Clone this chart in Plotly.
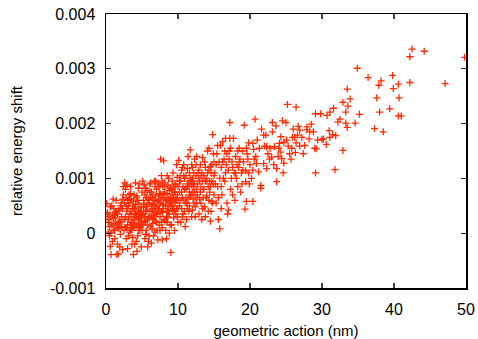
import plotly.graph_objects as go

# ---- data (x: geometric action in nm, y: relative energy shift in units of 1e-3) ----
x_a = [0.1,0.2,0.3,0.3,0.5,0.6,0.7,0.8,0.9,1.0,1.1,1.2,1.3,1.4,1.5,1.6,1.7,1.8,1.9,2.0,2.1,2.2,2.3,2.4,
       0.4,0.6,0.9,1.1,1.3,1.6,1.8,2.0,2.2,2.4,0.2,0.7,1.0,1.5,1.9,2.3,0.5,1.2,1.7,2.1,2.5]
y_a = [0.54,0.38,0.20,0.02,-0.05,-0.24,-0.39,0.15,0.33,0.05,0.45,-0.10,0.28,0.60,-0.39,0.10,-0.38,0.42,0.22,-0.02,
       0.55,0.30,-0.30,0.70,0.25,0.48,-0.15,0.18,0.38,-0.20,0.08,0.50,0.12,0.85,0.35,0.00,0.27,0.40,-0.25,0.62,
       0.12,0.32,0.20,0.45,0.05]

x_b = [2.6,2.7,2.8,2.9,3.0,3.1,3.2,3.3,3.4,3.5,3.6,3.7,3.8,3.9,4.0,4.1,4.2,4.3,4.4,4.5,4.6,4.7,4.8,4.9,5.0,
       2.7,2.9,3.1,3.3,3.5,3.7,3.9,4.1,4.3,4.5,4.7,4.9,
       2.6,2.8,3.0,3.2,3.4,3.6,3.8,4.0,4.2,4.4,4.6,4.8,5.0,
       2.8,3.1,3.4,3.7,4.0,4.3,4.6,4.9,
       3.0,3.5,4.0,4.5,3.2,3.8,4.4,2.9,4.1]
y_b = [0.92,0.80,0.65,0.40,0.15,-0.05,0.30,0.55,0.85,0.20,-0.20,0.45,-0.39,0.70,0.10,0.35,-0.15,-0.33,0.60,0.25,0.90,0.05,0.40,-0.25,0.75,
       0.30,0.10,0.50,0.02,0.62,0.18,0.28,0.52,0.15,0.82,0.38,0.22,
       0.25,-0.10,0.45,0.70,0.08,0.35,0.12,0.48,0.30,-0.05,0.55,0.12,0.32,
       0.50,0.25,0.40,-0.08,0.25,0.68,0.18,0.48,
       -0.28,0.05,-0.20,0.42,0.62,0.58,0.35,0.88,0.92]

x_c = [5.1,5.2,5.3,5.4,5.5,5.6,5.7,5.8,5.9,6.0,6.1,6.2,6.3,6.4,6.5,6.6,6.7,6.8,6.9,7.0,7.1,7.2,7.3,7.4,7.5,
       5.2,5.4,5.6,5.8,6.0,6.2,6.4,6.6,6.8,7.0,7.2,7.4,
       5.1,5.3,5.5,5.7,5.9,6.1,6.3,6.5,6.7,6.9,7.1,7.3,7.5,
       5.5,6.0,6.5,7.0,5.3,6.2,6.8,7.4,
       5.7,6.3,6.9,5.0,5.9,6.6,7.2,7.5]
y_c = [0.95,0.60,0.20,-0.10,0.40,0.05,0.78,-0.25,0.30,0.55,0.90,0.12,-0.18,0.45,0.70,0.25,0.95,0.02,0.50,0.80,0.35,-0.12,0.62,0.15,0.88,
       0.35,0.70,0.48,0.15,0.28,0.65,0.08,0.52,0.38,0.20,0.58,0.45,
       0.15,0.52,0.82,0.25,0.62,0.40,0.75,0.18,0.32,0.68,0.05,0.42,0.30,
       -0.02,-0.05,0.60,0.48,0.88,0.92,0.85,0.72,
       0.42,0.30,0.22,0.05,-0.15,-0.05,0.92,0.55]

x_d = [7.6,7.7,7.8,7.9,8.0,8.1,8.2,8.3,8.4,8.5,8.6,8.7,8.8,8.9,9.0,9.1,9.2,9.3,9.4,9.5,9.6,9.7,9.8,9.9,10.0,
       7.6,7.8,8.0,8.2,8.4,8.6,8.8,9.0,9.2,9.4,9.6,9.8,
       7.7,7.9,8.1,8.3,8.5,8.7,8.9,9.1,9.3,9.5,9.7,9.9,
       7.5,8.0,8.5,9.0,9.5,10.0,7.8,8.8,
       8.4,9.2,9.9,7.9,8.6,9.4]
y_d = [1.35,0.40,0.10,0.65,1.32,0.25,0.85,0.50,-0.10,0.72,0.30,1.00,0.55,0.15,-0.35,0.80,0.42,1.10,0.62,0.05,0.90,0.35,1.25,0.70,0.20,
       0.70,0.95,0.45,0.22,0.60,0.88,0.35,0.65,0.95,0.28,0.55,0.45,
       0.20,0.52,0.75,0.05,0.40,0.62,0.82,0.15,0.50,0.75,0.62,1.02,
       0.05,0.70,1.05,0.50,0.40,0.85,-0.12,0.00,
       0.30,0.70,0.30,0.85,0.50,0.85]

x_e = [10.1,10.2,10.3,10.4,10.5,10.6,10.7,10.8,10.9,11.0,11.1,11.2,11.3,11.4,11.5,11.6,11.7,11.8,11.9,12.0,12.1,12.2,12.3,12.4,12.5,
       10.2,10.5,10.8,11.1,11.4,11.7,12.0,12.3,
       10.3,10.7,11.0,11.3,11.6,11.9,12.2,12.5,
       10.4,10.9,11.5,12.1,10.6,11.2,11.8,12.4,10.0,12.0]
y_e = [1.33,0.50,0.95,0.20,1.15,0.65,0.35,1.25,0.80,0.12,1.05,0.55,0.90,1.40,0.40,0.75,1.52,1.00,0.30,1.20,0.62,0.85,1.35,0.48,1.05,
       0.75,0.45,0.60,0.82,0.62,0.95,0.42,0.75,
       1.05,0.85,0.55,1.18,0.50,0.88,1.10,0.65,
       0.60,1.00,0.95,0.95,0.30,0.25,0.68,0.30,0.60,0.75]

x_f = [12.6,12.7,12.8,12.9,13.0,13.1,13.2,13.3,13.4,13.5,13.6,13.7,13.8,13.9,14.0,14.1,14.2,14.3,14.4,14.5,14.6,14.7,14.8,14.9,15.0,
       12.7,13.0,13.3,13.6,13.9,14.2,14.5,14.8,
       12.9,13.4,13.8,14.3,14.7,12.6,13.2,14.0,14.6,15.0]
y_f = [1.40,0.70,1.10,0.35,0.95,1.25,0.55,0.25,1.38,0.80,1.05,0.48,1.20,0.65,0.95,1.50,0.40,1.55,0.75,0.22,1.10,0.58,1.80,0.90,1.30,
       0.90,0.62,1.10,0.80,1.00,0.85,1.22,0.55,
       1.15,0.45,0.30,1.15,0.95,0.55,0.85,0.68,0.40,0.70]

x_g = [15.1,15.3,15.4,15.5,15.6,15.8,15.9,16.0,16.1,16.2,16.4,16.5,16.6,16.7,16.8,16.9,17.0,17.1,17.2,17.2,17.3,
       17.5,17.7,17.8,17.9,18.0,18.2,18.3,18.5,18.6,18.8,18.9,19.0,19.2,19.3,19.4,19.4,19.5,19.7,19.8,19.9,20.0,
       15.2,15.7,16.3,16.8,17.4,17.6,18.1,18.4,19.1,19.6,15.5,16.0,16.5,17.0,18.7]
y_g = [1.10,0.55,1.45,0.85,0.25,0.08,1.60,1.20,0.70,1.67,1.35,0.95,1.73,1.25,0.55,0.35,0.42,1.50,2.02,1.73,0.80,
       1.30,1.73,1.10,0.60,1.40,1.25,0.85,1.55,1.35,1.10,0.90,1.50,1.97,0.44,1.14,0.94,0.58,1.35,1.65,0.90,1.25,
       0.90,1.30,1.00,1.45,1.00,0.70,1.00,1.20,1.30,1.45,1.60,0.45,1.50,1.15,0.75]

x_h = [20.7,21.6,23.1,23.6,24.5,25.0,23.1,22.2,21.9,24.3,25.9,26.2,26.6,26.9,27.9,28.5,26.7,20.4,20.5,22.0,
       22.3,23.4,24.1,24.7,25.3,26.9,27.4,26.3,25.5,24.2,24.4,24.7,25.7,22.7,23.0,21.9,20.9,20.4,21.2,22.3,
       23.7,24.6,23.7,21.5,21.5,20.4,
       20.2,20.8,21.3,22.5,23.3,24.0,25.1,25.8,26.4,27.2,27.6,28.2,28.8,29.4,29.0,30.2,30.6,31.1,31.5,31.9,
       21.0,22.8,23.9,20.6,26.0,27.9,28.3,30.0,31.0,29.2]
y_h = [2.08,1.90,2.02,1.96,2.05,2.02,1.85,1.79,1.79,1.76,1.75,1.75,1.79,1.88,1.89,1.99,1.95,1.64,1.53,1.59,
       1.58,1.58,1.64,1.66,1.59,1.59,1.45,1.47,1.45,1.48,1.36,1.28,1.35,1.35,1.39,1.27,1.27,1.15,1.12,1.18,
       1.18,1.10,0.94,0.87,0.82,0.58,
       1.00,1.40,1.55,1.45,1.25,1.55,1.70,1.55,1.65,1.75,1.60,1.72,1.85,1.70,1.55,1.72,1.62,1.75,1.80,1.78,
       1.70,1.55,1.40,1.35,1.90,1.94,1.85,1.71,1.87,1.54]

x_i = [42.5,44.2,42.2,49.8,34.9,36.4,39.8,38.2,37.9,42.2,40.6,47.1,39.9,33.5,40.7,37.6,33.9,32.9,33.6,39.4,
       31.6,33.3,38.0,35.2,40.6,41.0,33.3,34.6,33.5,37.3,38.5,32.9,29.1,31.8,25.2,26.4,29.1,29.8,30.7,31.1,
       32.5,32.2]
y_i = [3.36,3.32,3.22,3.21,3.01,2.84,2.88,2.78,2.70,2.75,2.72,2.73,2.64,2.63,2.47,2.47,2.45,2.39,2.32,2.27,
       2.28,2.21,2.21,2.17,2.14,2.14,2.01,2.01,1.93,1.91,1.85,1.51,1.10,1.16,2.35,2.30,2.18,2.18,2.15,2.21,
       2.08,2.03]

x_j = [0.3,0.8,1.2,1.6,2.0,2.3,2.7,3.0,3.3,3.6,3.9,4.2,4.5,4.8,1.0,1.4,2.6,3.4,4.0,4.6,
       5.2,5.5,5.8,6.1,6.4,6.7,7.0,7.3,7.6,7.9,8.2,8.5,8.8,9.1,9.4,9.7,10.0,5.6,6.3,6.9,7.5,8.1,8.7,9.3,9.8,5.4,6.6,7.7,8.9,9.6,
       10.2,10.5,10.8,11.1,11.4,11.7,12.0,12.3,12.6,12.9,13.2,13.5,13.8,14.1,14.4,14.7,15.0,10.6,11.3,11.9,12.5,13.1,13.7,14.3,14.9,10.9,12.2,13.4,14.5,11.6,
       15.3,15.8,16.2,16.6,17.1,17.6,18.0,18.5,19.0,19.5,16.0,17.3,18.3,19.8,15.6]
y_j = [0.30,0.50,0.05,0.35,0.20,0.45,0.10,0.60,0.35,0.15,0.45,0.65,0.05,0.28,0.62,0.15,0.55,0.72,0.35,0.38,
       0.48,0.22,0.55,0.75,0.32,0.60,0.35,0.85,0.55,0.38,0.62,0.20,0.78,0.58,0.45,0.88,0.45,0.65,0.50,0.95,0.72,0.92,0.42,0.65,0.60,0.30,0.42,1.05,0.58,0.75,
       0.95,0.75,1.05,0.65,0.85,0.70,1.00,0.90,0.80,1.00,1.05,0.65,0.95,1.10,0.95,1.25,1.05,1.20,0.45,1.25,1.25,0.75,1.30,0.60,1.45,0.40,0.55,0.95,0.85,1.10,
       1.25,1.00,1.30,1.10,1.35,1.20,1.10,1.30,1.15,1.55,0.85,1.55,1.50,1.10,0.65]

x_ticks = [0, 10, 20, 30, 40, 50]
y_ticks = [-0.001, 0, 0.001, 0.002, 0.003, 0.004]
y_tick_text = ["-0.001", "0", "0.001", "0.002", "0.003", "0.004"]

xs, ys = [], []
for xa, ya in [(x_a, y_a), (x_b, y_b), (x_c, y_c), (x_d, y_d), (x_e, y_e),
               (x_f, y_f), (x_g, y_g), (x_h, y_h), (x_i, y_i), (x_j, y_j)]:
    for xv, yv in zip(xa, ya):
        xs.append(xv)
        ys.append(yv * 1e-3)

fig = go.Figure()
fig.add_trace(go.Scatter(
    x=xs, y=ys, mode="markers",
    marker=dict(symbol="cross-thin", size=5, color="#ff2a00",
                line=dict(color="#ff2a00", width=1.3)),
    showlegend=False, hoverinfo="skip",
))

font_family = "Liberation Sans, Arial, sans-serif"
fig.update_layout(
    width=478, height=339,
    margin=dict(l=106, r=12, t=14, b=51),
    paper_bgcolor="white", plot_bgcolor="white",
    font=dict(family=font_family, size=15, color="black"),
)
fig.update_xaxes(
    range=[0, 50], tickvals=x_ticks, ticktext=[str(v) for v in x_ticks],
    showline=True, linecolor="black", linewidth=1.5, mirror="ticks",
    ticks="inside", ticklen=5, tickcolor="#444", tickwidth=1.2,
    showgrid=False, zeroline=False,
    tickfont=dict(size=16), ticklabelstandoff=6,
    title=dict(text="geometric action (nm)", font=dict(size=15), standoff=9),
    automargin=False,
)
fig.update_yaxes(
    range=[-0.001, 0.004], tickvals=y_ticks, ticktext=y_tick_text,
    showline=True, linecolor="black", linewidth=1.5, mirror="ticks",
    ticks="inside", ticklen=5, tickcolor="#222", tickwidth=1.2,
    showgrid=False, zeroline=False,
    tickfont=dict(size=16), ticklabelstandoff=6,
    title=dict(text="relative energy shift", font=dict(size=15), standoff=23),
    automargin=False,
)

fig.write_html(
    "out.html",
    config={"displayModeBar": False, "staticPlot": True},
    post_script="document.body.style.margin='0';document.body.style.overflow='hidden';",
)
